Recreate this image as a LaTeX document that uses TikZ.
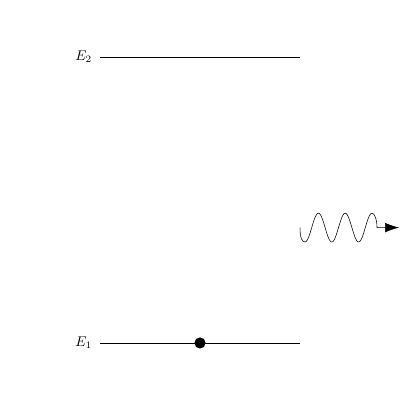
\documentclass[tikz,border=0pt]{standalone}
\usetikzlibrary{arrows.meta}
\begin{document}
\begin{tikzpicture}[
    level/.style={thin},
    electron/.style={circle, fill=black, inner sep=0pt, minimum size=2.8mm},
    photon/.style={thin, -{Latex[length=3.5mm, width=2.4mm]}}
  ]
    \useasboundingbox (0, 0) rectangle (10, 10);

    % Energy levels
    \coordinate (upA) at (2.5, 8.575);
    \coordinate (upB) at (7.5, 8.575);
    \coordinate (lowA) at (2.5, 1.425);
    \coordinate (lowB) at (7.5, 1.425);
    \draw[level] (upA) -- (upB);
    \draw[level] (lowA) -- (lowB);

    % Labels
    \node[left=5.5pt, inner sep=0pt] (labUp) at (upA) {$E_2$};
    \node[left=5.5pt, inner sep=0pt] (labLow) at (lowA) {$E_1$};

    % Electron on the lower level
    \node[electron] (dot) at (5, 1.425) {};

    % Emitted photon
    \coordinate (waveStart) at (7.5, 4.31);
    \coordinate (waveEnd) at (9.975, 4.31);
    \draw[photon] (waveStart) .. controls (7.5, 4.05) and (7.55, 3.95) .. (7.625, 3.95)
        plot[domain=0:2.5, samples=120, smooth] ({7.625 + 0.67*\x}, {4.31 - 0.36*cos(360*\x)})
        .. controls (9.37, 4.67) and (9.425, 4.5) .. (9.425, 4.31) -- (waveEnd);
\end{tikzpicture}
\end{document}
